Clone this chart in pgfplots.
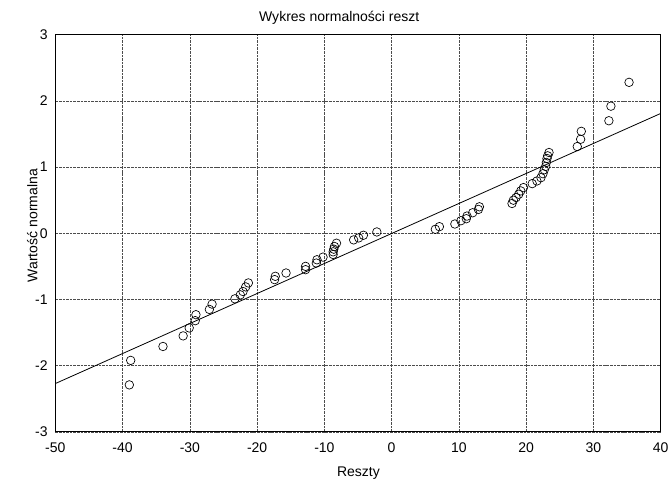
\documentclass[border=0pt]{standalone}
\usepackage{pgfplots}
\pgfplotsset{compat=1.18}
\usepackage{fontspec}
\setmainfont{Liberation Sans}
\begin{document}
\fontsize{10.5}{12}\selectfont
\begin{tikzpicture}
\begin{axis}[
  scale only axis, width=453.75pt, height=297.75pt,
  xmin=-50, xmax=40, ymin=-3, ymax=3,
  xtick={-50,-40,...,40}, ytick={-3,-2,...,3},
  grid=major,
  major grid style={black!70, dash pattern=on 2pt off 0.7pt, line width=0.45pt},
  tick style={draw=none},
  axis line style={line width=0.6pt},
  /pgf/number format/assume math mode=true,
  ticklabel style={font=\fontsize{10.5}{12}\selectfont},
  xticklabel style={anchor=center, inner sep=0pt, yshift=-11.6pt},
  yticklabel style={anchor=east, inner sep=0pt, xshift=-5.6pt},
  title={Wykres normalności reszt},
  every axis title/.style={at={(axis description cs:0.469,1.0416)}, anchor=center, inner sep=0pt, font=\fontsize{10.5}{12}\selectfont},
  xlabel={Reszty},
  xlabel style={at={(axis description cs:0.5008,-0.1033)}, anchor=center, inner sep=0pt, font=\fontsize{10.5}{12}\selectfont},
  ylabel={Wartość normalna},
  ylabel style={at={(axis description cs:-0.038,0.519)}, anchor=center, inner sep=0pt, font=\fontsize{10.5}{12}\selectfont},
]
\addplot[black, line width=0.6pt, no marks] coordinates {(-50,-2.27) (40,1.81)};
\addplot[only marks, mark=o, mark size=3.2pt, mark options={black, fill=white, line width=0.5pt}] coordinates {
(-39.0,-2.29) (-38.8,-1.92) (-34.0,-1.71) (-31.0,-1.55) (-30.1,-1.43)
(-29.2,-1.32) (-29.1,-1.23) (-27.1,-1.15) (-26.7,-1.07) (-23.3,-0.99)
(-22.5,-0.93) (-22.1,-0.88) (-21.7,-0.81) (-21.3,-0.75) (-17.4,-0.70)
(-17.3,-0.65) (-15.7,-0.60) (-12.8,-0.55) (-12.8,-0.50) (-11.2,-0.45)
(-11.1,-0.40) (-10.2,-0.36) (-8.7,-0.32) (-8.7,-0.28) (-8.6,-0.24)
(-8.5,-0.20) (-8.2,-0.15) (-5.65,-0.10) (-4.9,-0.07) (-4.2,-0.03)
(-2.2,0.02) (6.5,0.06) (7.1,0.10) (9.4,0.14) (10.3,0.19)
(11.1,0.22) (11.2,0.26) (12.05,0.31) (12.9,0.36) (13.05,0.40)
(17.9,0.45) (18.1,0.50) (18.5,0.54) (18.9,0.59) (19.2,0.64)
(19.6,0.69) (20.9,0.75) (21.6,0.79) (22.2,0.84) (22.5,0.90)
(22.7,0.96) (22.9,1.01) (23.0,1.07) (23.1,1.13) (23.2,1.17)
(23.4,1.22) (27.6,1.31) (28.1,1.42) (28.2,1.54) (32.3,1.70)
(32.6,1.92) (35.3,2.28)
};
\end{axis}
\pgfresetboundingbox
\path ([shift={(-41.5pt,-36.5pt)}]current axis.south west) rectangle ([shift={(5.5pt,26pt)}]current axis.north east);
\end{tikzpicture}
\end{document}
